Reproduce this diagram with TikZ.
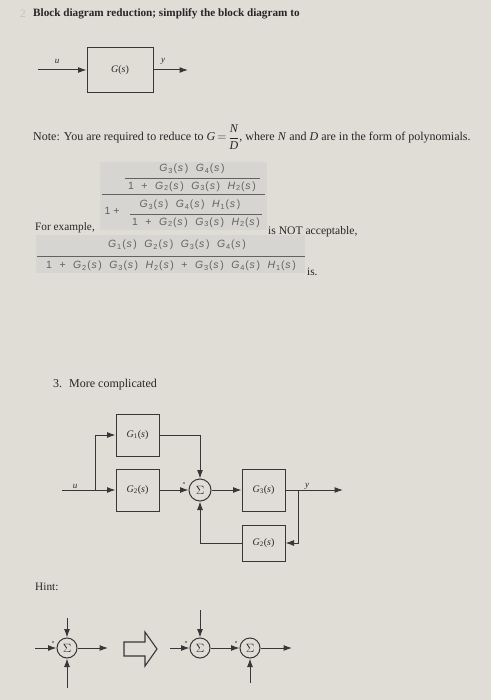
\documentclass[tikz,border=0pt]{standalone}
\usepackage{fontspec}
\setmainfont{Liberation Serif}
\newfontfamily\fracfont[LetterSpace=8]{Liberation Sans}
\usetikzlibrary{arrows.meta}
\definecolor{bg}{RGB}{224,221,215}
\definecolor{fbg}{RGB}{214,213,210}
\definecolor{ink}{RGB}{38,38,38}
\definecolor{linec}{RGB}{55,55,55}
\definecolor{fink}{RGB}{98,98,98}
\definecolor{faint}{RGB}{196,193,188}
\newcommand{\fg}[2]{\textit{#1}\textsubscript{#2}\kern0.5pt(\kern0.8pt\textit{s}\kern0.8pt)}
\newcommand{\sep}{\hspace{7.5pt}}
\newcommand{\bg}[1]{\textit{G}\textsubscript{#1}(\textit{s})}
\begin{document}
\begin{tikzpicture}[x=1pt,y=-1pt,
 sig/.style={draw=linec,line width=1pt},
 arr/.style={sig,-{Latex[length=8.5pt,width=6pt]}},
 blk/.style={draw=linec,line width=1pt,fill=bg,inner sep=0,minimum width=43pt,minimum height=42pt,font=\fontsize{10}{11}\selectfont,text=ink},
 sumn/.style={circle,draw=linec,line width=1pt,inner sep=0,minimum size=#1,font=\fontsize{12}{12}\selectfont,text=ink},
 sumn/.default=22pt,
 txt/.style={text=ink,inner sep=0,anchor=west,font=\fontsize{11.3}{13}\selectfont},
 lbl/.style={text=ink,inner sep=0,font=\fontsize{9}{10}\selectfont\itshape},
 ftx/.style={text=fink,inner sep=0,font=\fracfont\fontsize{10.5}{11}\selectfont},
 fline/.style={draw=fink,line width=0.8pt},
 plus/.style={fill=linec,circle,inner sep=0,minimum size=1.8pt}]
\fill[bg] (0,0) rectangle (491,700);
\useasboundingbox (0,0) rectangle (491,700);

% header
\node[txt,text=faint] (n2) at (20,14) {2};
\node[txt,font=\fontsize{11.2}{13}\selectfont\bfseries] (title) at (33,14) {Block diagram reduction; simplify the block diagram to};

% simple block
\node[blk,minimum width=66pt,minimum height=45pt] (g) at (120,70) {\textit{G}(\textit{s})};
\coordinate (u0) at (38,70);
\coordinate (y0) at (188,70);
\draw[arr] (u0) -- (g.west);
\draw[arr] (g.east) -- (y0);
\node[lbl] (ulab) at (57,61) {u};
\node[lbl] (ylab) at (163,61) {y};

% note
\node[txt,font=\fontsize{12}{14}\selectfont] (note) at (33,137) {Note: You are required to reduce to $\textit{G}\,{=}\,\displaystyle\frac{\textit{N}}{\textit{D}}$, where \textit{N} and \textit{D} are in the form of polynomials.};

% fraction 1
\fill[fbg] (100,162) rectangle (267,230);
\node[ftx] (f1a) at (192,169) {\fg{G}{3}\sep\fg{G}{4}};
\draw[fline] (125,178.5) -- (260,178.5);
\node[ftx] (f1b) at (192,186.5) {1\sep+\sep\fg{G}{2}\sep\fg{G}{3}\sep\fg{H}{2}};
\draw[fline] (102,194) -- (265,194);
\node[ftx] (f1c) at (112,211) {1\hspace{3pt}+};
\node[ftx] (f1d) at (190,205) {\fg{G}{3}\sep\fg{G}{4}\sep\fg{H}{1}};
\draw[fline] (130,214.5) -- (262,214.5);
\node[ftx] (f1e) at (196,222.5) {1\sep+\sep\fg{G}{2}\sep\fg{G}{3}\sep\fg{H}{2}};
\node[txt] (ex) at (35,228) {For example,};
\node[txt,font=\fontsize{11.6}{13}\selectfont] (nacc) at (268,232) {is NOT acceptable,};

% fraction 2
\fill[fbg] (36,235) rectangle (305,273);
\node[ftx] (f2a) at (177,245) {\fg{G}{1}\sep\fg{G}{2}\sep\fg{G}{3}\sep\fg{G}{4}};
\draw[fline] (37,256.5) -- (305,256.5);
\node[ftx] (f2b) at (171,266) {1\sep+\sep\fg{G}{2}\sep\fg{G}{3}\sep\fg{H}{2}\sep+\sep\fg{G}{3}\sep\fg{G}{4}\sep\fg{H}{1}};
\node[txt] (is) at (307,272) {is.};

% problem 3
\node[txt,font=\fontsize{12}{14}\selectfont] (p3) at (53,385) {3.\hspace{7pt}More complicated};

\node[blk] (G1) at (137.5,435) {\bg{1}};
\node[blk] (G2) at (137.5,490) {\bg{2}};
\node[sumn] (S) at (200,490) {$\Sigma$};
\node[blk] (G3) at (263.5,490) {\bg{3}};
\node[blk,minimum height=36pt] (G4) at (263.5,543) {\bg{2}};
\coordinate (in1) at (62,490);
\coordinate (br1) at (95,490);
\coordinate (br2) at (298,490);
\coordinate (out) at (343,490);
\draw[arr] (in1) -- (G2.west);
\draw[arr] (br1) |- (G1.west);
\draw[arr] (G2.east) -- (S.west);
\draw[arr] (G1.east) -| (S.north);
\draw[arr] (S.east) -- (G3.west);
\draw[arr] (G3.east) -- (out);
\draw[arr] (br2) |- (G4.east);
\draw[arr] (G4.west) -| (S.south);
\node[plus] (sp) at (184,483) {};
\node[lbl] (u2) at (75,486) {u};
\node[lbl] (y2) at (307,486) {y};

% hint
\node[txt] (hint) at (35,587) {Hint:};
\node[sumn=20pt] (H1) at (67,648) {$\Sigma$};
\coordinate (h1l) at (35,648);
\coordinate (h1r) at (108,648);
\coordinate (h1t) at (67,618);
\coordinate (h1b) at (67,688);
\draw[arr] (h1l) -- (H1.west);
\draw[arr] (H1.east) -- (h1r);
\draw[arr] (h1t) -- (H1.north);
\draw[arr] (h1b) -- (H1.south);
\node[plus] (hp1) at (53,642) {};

\draw[draw=linec,line width=1.1pt,fill=bg] (124,642) -- (145,642) -- (145,632) -- (157,649) -- (145,666) -- (145,656) -- (124,656) -- cycle;

\node[sumn=20pt] (H2) at (200,648) {$\Sigma$};
\node[sumn=20pt] (H3) at (250,648) {$\Sigma$};
\coordinate (h2l) at (170,648);
\coordinate (h2t) at (200,610);
\coordinate (h3b) at (250,683);
\coordinate (h3r) at (292,648);
\draw[arr] (h2l) -- (H2.west);
\draw[arr] (h2t) -- (H2.north);
\draw[arr] (H2.east) -- (H3.west);
\draw[arr] (h3b) -- (H3.south);
\draw[arr] (H3.east) -- (h3r);
\node[plus] (hp2) at (186,642) {};
\node[plus] (hp3) at (236,642) {};
\end{tikzpicture}
\end{document}
